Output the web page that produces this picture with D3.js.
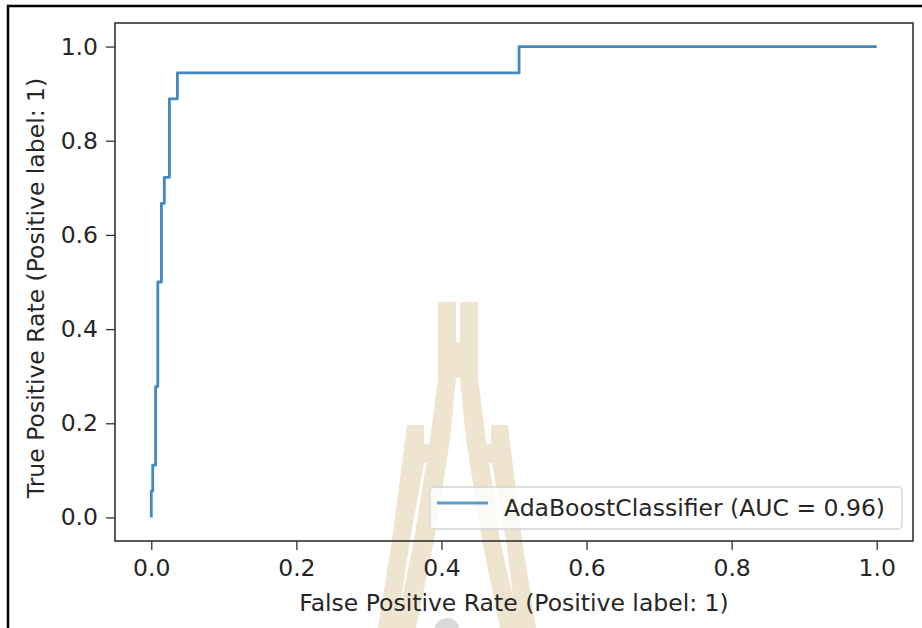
<!DOCTYPE html>
<html lang="en">
<head>
<meta charset="UTF-8">
<title>ROC curve</title>
<style>
html, body { margin: 0; padding: 0; background: #fff; }
body { font-family: 'DejaVu Sans', sans-serif; }
svg text { fill: #262626; }
.tick line { stroke: #333; }
</style>
<script src="https://cdnjs.cloudflare.com/ajax/libs/d3/7.8.5/d3.min.js"></script>
</head>
<body>
<svg id="chart" width="922" height="628"></svg>
<script>
// ROC points
const fpr = [0, 0, 0.002, 0.002, 0.006, 0.006, 0.009, 0.009, 0.014, 0.014, 0.018, 0.018, 0.025, 0.025, 0.036, 0.036, 0.507, 0.507, 1.0];
const tpr = [0, 0.056, 0.056, 0.111, 0.111, 0.278, 0.278, 0.5, 0.5, 0.667, 0.667, 0.722, 0.722, 0.889, 0.889, 0.944, 0.944, 1.0, 1.0];
const xTicks = [0, 0.2, 0.4, 0.6, 0.8, 1.0];
const yTicks = [0, 0.2, 0.4, 0.6, 0.8, 1.0];
const legendLabel = 'AdaBoostClassifier (AUC = 0.96)';
const xLabel = 'False Positive Rate (Positive label: 1)';
const yLabel = 'True Positive Rate (Positive label: 1)';

var svg = d3.select('#chart');
var FS = 23.5;

// plot area (matplotlib adds 5% margins on each side)
var margin = {left: 115, right: 9, top: 23, bottom: 87};
var W = 922, H = 628;

var x = d3.scaleLinear().domain([-0.05, 1.05]).range([margin.left, W - margin.right]);
var y = d3.scaleLinear().domain([-0.05, 1.05]).range([H - margin.bottom, margin.top]);

// beige watermark behind the plot
var wm = svg.append('g').attr('fill', '#efe4cf');
var shapes = [
  [[438,302],[456,302],[456,342],[460,342],[460,302],[478,302],[478,378],[486,440],[500,540],[520,628],[500,628],[482,540],[466,440],[460,378],[456,378],[450,440],[434,540],[416,628],[396,628],[414,540],[430,440],[438,378]],
  [[407,425],[424,425],[424,444],[438,444],[438,463],[424,463],[410,540],[397,628],[378,628],[392,540]],
  [[491,425],[508,425],[522,540],[536,628],[517,628],[506,540],[492,463],[478,463],[478,444],[491,444]]
];
wm.selectAll('path').data(shapes).enter().append('path')
  .attr('d', function (d) { return 'M' + d.join('L') + 'Z'; });
svg.append('circle').attr('cx', 447).attr('cy', 631).attr('r', 13).attr('fill', '#d9d9d9');

// outer frame of the screenshot
svg.append('path')
  .attr('d', 'M8,628V6H922')
  .attr('fill', 'none').attr('stroke', '#000').attr('stroke-width', 2.5);

// axes
var gx = svg.append('g').attr('transform', 'translate(0,' + (H - margin.bottom) + ')')
  .call(d3.axisBottom(x).tickValues(xTicks).tickSize(9).tickPadding(9).tickFormat(d3.format('.1f')));
var gy = svg.append('g').attr('transform', 'translate(' + margin.left + ',0)')
  .call(d3.axisLeft(y).tickValues(yTicks).tickSize(9).tickPadding(8).tickFormat(d3.format('.1f')));
[gx, gy].forEach(function (g) {
  g.selectAll('.domain').remove();
  g.selectAll('.tick line').attr('stroke-width', 1.3);
  g.selectAll('.tick text').attr('font-size', FS).attr('font-family', 'DejaVu Sans').attr('fill', '#262626');
});

// spines
svg.append('rect')
  .attr('x', x(-0.05)).attr('y', y(1.05))
  .attr('width', x(1.05) - x(-0.05)).attr('height', y(-0.05) - y(1.05))
  .attr('fill', 'none').attr('stroke', '#333').attr('stroke-width', 1.6);

// ROC curve
var pts = fpr.map(function (f, i) { return [f, tpr[i]]; });
var line = d3.line().x(function (d) { return x(d[0]); }).y(function (d) { return y(d[1]); });
svg.append('path').datum(pts)
  .attr('d', line)
  .attr('fill', 'none').attr('stroke', '#4189c2').attr('stroke-width', 2.8)
  .attr('stroke-linejoin', 'round');

// legend
var lg = svg.append('g').attr('transform', 'translate(430,487)');
lg.append('rect').attr('width', 472).attr('height', 42).attr('rx', 4)
  .attr('fill', '#fff').attr('fill-opacity', 0.8).attr('stroke', '#d4d4d4').attr('stroke-width', 1.3);
lg.append('line').attr('x1', 7).attr('x2', 58).attr('y1', 16).attr('y2', 16)
  .attr('stroke', '#5a9dcb').attr('stroke-width', 2.8);
lg.append('text').attr('x', 74).attr('y', 29).attr('font-size', FS).text(legendLabel);

// axis titles
svg.append('text').attr('x', x(0.5)).attr('y', 611).attr('text-anchor', 'middle')
  .attr('font-size', FS).text(xLabel);
svg.append('text').attr('transform', 'translate(44,288) rotate(-90)')
  .attr('text-anchor', 'middle').attr('font-size', FS).text(yLabel);
</script>
</body>
</html>
